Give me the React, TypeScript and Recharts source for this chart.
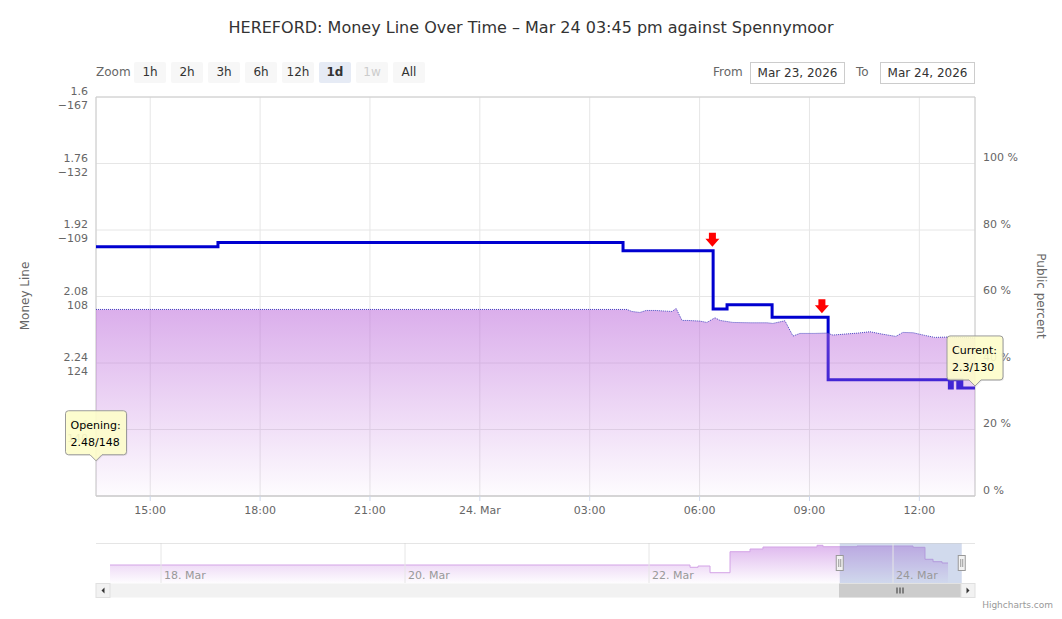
import React from 'react';
import {
  ComposedChart,
  AreaChart,
  Line,
  Area,
  Scatter,
  XAxis,
  YAxis,
  CartesianGrid,
  ReferenceArea,
  ReferenceDot,
  ReferenceLine
} from 'recharts';

const FONT = '"DejaVu Sans", "Lucida Grande", Arial, sans-serif';

// main chart, x = hours since Mar 23 00:00
const viewStart = 13.52;
const viewEnd = 37.52;
const xTicks = [15, 18, 21, 24, 27, 30, 33, 36];
const xTickLabels = ['15:00', '18:00', '21:00', '24. Mar', '03:00', '06:00', '09:00', '12:00'];

// left axis: decimal odds (reversed) with american odds underneath
const oddsTicks = [1.6, 1.76, 1.92, 2.08, 2.24, 2.4, 2.56];
const oddsTickLabels = ['1.6', '1.76', '1.92', '2.08', '2.24', '2.4', '2.56'];
const americanTickLabels = ['\u2212167', '\u2212132', '\u2212109', '108', '124', '140', '156'];

// right axis: public percent
const pctTicks = [0, 20, 40, 60, 80, 100, 120];
const pctTickLabels = ['0 %', '20 %', '40 %', '60 %', '80 %', '100 %', ''];

// money line (step)
const lineHours = [13.52, 16.85, 27.91, 30.37, 30.75, 31.98, 33.51, 36.82, 36.9, 37.05, 37.11, 37.16, 37.52];
const lineOdds = [1.96, 1.95, 1.97, 2.11, 2.1, 2.13, 2.28, 2.3, 2.28, 2.3, 2.28, 2.3, 2.3];

// public percent area
const pctHours = [
  13.52, 28.02, 28.15, 28.37, 28.54, 28.81, 29.08, 29.25, 29.36, 29.52, 29.68, 30.01, 30.2,
  30.42, 30.56, 30.91, 31.38, 31.84, 32.0, 32.33, 32.55, 32.74, 33.15, 33.48, 33.64, 33.97,
  34.33, 34.65, 34.98, 35.36, 35.55, 35.83, 36.15, 36.42, 36.78, 37.11, 37.52
];
const pctValues = [
  56.1, 56.1, 55.5, 55.2, 55.8, 55.8, 55.6, 55.5, 56.4, 52.8, 52.8, 52.6, 52.2,
  53.6, 52.8, 52.2, 52.1, 52.1, 51.9, 52.7, 48.1, 48.9, 48.9, 49.0, 48.4, 48.7,
  49.0, 49.4, 48.7, 48.0, 49.2, 49.1, 48.3, 47.7, 47.8, 47.7, 47.5
];

// line movement flags
const flagHours = [30.35, 33.34];
const flagOdds = [1.97, 2.13];

// opening / current labels
const calloutHours = [13.52, 37.52];
const calloutOdds = [2.48, 2.3];
const calloutTitles = ['Opening:', 'Current:'];
const calloutTexts = ['2.48/148', '2.3/130'];

// navigator, x = days since Mar 17 00:00
const navStart = 0.467;
const navEnd = 7.672;
const navTicks = [1, 3, 5, 7];
const navTickLabels = ['18. Mar', '20. Mar', '22. Mar', '24. Mar'];
const navDays = [0.582, 5.336, 5.402, 5.5, 5.664, 5.828, 5.934, 6.377, 6.426, 6.705, 7.164, 7.262, 7.328, 7.402, 7.451];
const navValues = [42.6, 41.0, 41.9, 37.2, 51.9, 53.8, 55.2, 56.4, 55.4, 55.9, 55.0, 46.6, 44.9, 44.0, 44.0];

const rangeButtons = ['1h', '2h', '3h', '6h', '12h', '1d', '1w', 'All'];

const lineData = lineHours.map((t, i) => ({ t, odds: lineOdds[i] }));
const pctData = pctHours.map((t, i) => ({ t, pct: pctValues[i] }));
const flagData = flagHours.map((t, i) => ({ t, odds: flagOdds[i] }));
const navData = navDays.map((d, i) => ({ d, v: navValues[i] }));

let measureCtx: CanvasRenderingContext2D | null = null;
const textWidth = (s: string, font: string) => {
  if (!measureCtx) measureCtx = document.createElement('canvas').getContext('2d');
  if (!measureCtx) return s.length * 6.5;
  measureCtx.font = font;
  return measureCtx.measureText(s).width;
};

const LeftTick = (props: any) => {
  const { x, y, index } = props;
  if (index === oddsTicks.length - 1) return null;
  return (
    <g fontFamily={FONT} fontSize={11} fill="#666">
      <text x={x} y={y - 2} textAnchor="end">{oddsTickLabels[index]}</text>
      <text x={x} y={y + 12} textAnchor="end">{americanTickLabels[index]}</text>
    </g>
  );
};

const RightTick = (props: any) => {
  const { x, y, index } = props;
  return (
    <text x={x} y={y - 2.5} fontFamily={FONT} fontSize={11} fill="#666">{pctTickLabels[index]}</text>
  );
};

const BottomTick = (props: any) => {
  const { x, y, index } = props;
  return (
    <text x={x} y={y + 9} textAnchor="middle" fontFamily={FONT} fontSize={11} fill="#666">{xTickLabels[index]}</text>
  );
};

const FlagShape = (props: any) => {
  const { cx, cy } = props;
  const tip = cy - 4;
  return (
    <path
      d={`M${cx - 3.5},${tip - 14} h7 v6 h3.5 L${cx},${tip} L${cx - 7},${tip - 8} h3.5 Z`}
      fill="#ff0000"
    />
  );
};

const makeCallout = (title: string, text: string) => (props: any) => {
  const { cx, cy } = props;
  const font = `11px ${FONT}`;
  const w = Math.round(Math.max(textWidth(title, font), textWidth(text, font)) + 11);
  const h = 44;
  const tipY = cy - 2;
  const bottom = tipY - 6;
  const top = bottom - h;
  const left = cx - w / 2;
  const right = cx + w / 2;
  const d = `M${left + 3},${top} H${right - 3} Q${right},${top} ${right},${top + 3} V${bottom - 3} Q${right},${bottom} ${right - 3},${bottom} H${cx + 6} L${cx},${tipY} L${cx - 6},${bottom} H${left + 3} Q${left},${bottom} ${left},${bottom - 3} V${top + 3} Q${left},${top} ${left + 3},${top} Z`;
  return (
    <g>
      <path d={d} transform="translate(1,1)" fill="rgba(0,0,0,0.08)" />
      <path d={d} fill="#ffffcc" fillOpacity={0.9} stroke="#9a9a9a" strokeWidth={1} />
      <text x={left + 5} y={top + 18} fontFamily={FONT} fontSize={11} fill="#000">{title}</text>
      <text x={left + 5} y={top + 35} fontFamily={FONT} fontSize={11} fill="#000">{text}</text>
    </g>
  );
};

const HandleShape = (props: any) => {
  const { cx, cy } = props;
  return (
    <g>
      <rect x={cx - 3.5} y={cy - 7.5} width={7} height={15} fill="#f2f2f2" stroke="#999" strokeWidth={1} />
      <line x1={cx - 1} y1={cy - 4} x2={cx - 1} y2={cy + 4} stroke="#999" />
      <line x1={cx + 1} y1={cy - 4} x2={cx + 1} y2={cy + 4} stroke="#999" />
    </g>
  );
};

const App = () => {
  return (
    <div style={{ position: 'absolute', left: 0, top: 0, width: 1062, height: 619, background: '#fff', fontFamily: FONT }}>
      <div style={{ position: 'absolute', left: 0, top: 18, width: 1062, textAlign: 'center', fontSize: 16, color: '#333' }}>
        HEREFORD: Money Line Over Time – Mar 24 03:45 pm against Spennymoor
      </div>

      <div style={{ position: 'absolute', left: 96, top: 65, fontSize: 12, color: '#666' }}>Zoom</div>
      {rangeButtons.map((b) => {
        const i = rangeButtons.indexOf(b);
        return (
          <div
            key={b}
            style={{
              position: 'absolute',
              left: 134 + i * 37,
              top: 62,
              width: 32,
              height: 21,
              lineHeight: '21px',
              textAlign: 'center',
              fontSize: 12,
              borderRadius: 2,
              background: b === '1d' ? '#e6ebf5' : '#f7f7f7',
              color: b === '1w' ? '#cccccc' : '#333',
              fontWeight: b === '1d' ? 'bold' : 'normal'
            }}
          >
            {b}
          </div>
        );
      })}

      <div style={{ position: 'absolute', left: 713, top: 65, fontSize: 12, color: '#666' }}>From</div>
      <div style={{ position: 'absolute', left: 750, top: 62, width: 93, height: 20, border: '1px solid #ccc', fontSize: 12, lineHeight: '20px', textAlign: 'center', color: '#333' }}>Mar 23, 2026</div>
      <div style={{ position: 'absolute', left: 856, top: 65, fontSize: 12, color: '#666' }}>To</div>
      <div style={{ position: 'absolute', left: 880, top: 62, width: 93, height: 20, border: '1px solid #ccc', fontSize: 12, lineHeight: '20px', textAlign: 'center', color: '#333' }}>Mar 24, 2026</div>

      {/* bottom layer: grid, axes and the money line */}
      <div style={{ position: 'absolute', left: 0, top: 0 }}>
        <ComposedChart width={1062} height={530} margin={{ top: 97, right: 0, bottom: 0, left: 0 }}>
          <CartesianGrid yAxisId="left" stroke="#e6e6e6" />
          <XAxis
            dataKey="t"
            type="number"
            domain={[viewStart, viewEnd]}
            ticks={xTicks}
            allowDataOverflow
            height={34}
            tickSize={5}
            tickMargin={4}
            tick={<BottomTick />}
            tickLine={{ stroke: '#ccd6eb' }}
            axisLine={{ stroke: '#cccccc' }}
          />
          <YAxis
            yAxisId="left"
            type="number"
            domain={[1.6, 2.56]}
            ticks={oddsTicks}
            reversed
            allowDataOverflow
            width={96}
            tickSize={6}
            tickMargin={2}
            tickLine={false}
            axisLine={false}
            tick={<LeftTick />}
            label={{
              content: () => (
                <text x={25} y={296} transform="rotate(-90 25 296)" textAnchor="middle" dominantBaseline="middle" fontFamily={FONT} fontSize={12} fill="#666">Money Line</text>
              )
            }}
          />
          <YAxis
            yAxisId="right"
            orientation="right"
            type="number"
            domain={[0, 120]}
            ticks={pctTicks}
            allowDataOverflow
            width={87}
            tickSize={6}
            tickMargin={2}
            tickLine={false}
            axisLine={false}
            tick={<RightTick />}
            label={{
              content: () => (
                <text x={1040} y={296} transform="rotate(90 1040 296)" textAnchor="middle" dominantBaseline="middle" fontFamily={FONT} fontSize={12} fill="#666">Public percent</text>
              )
            }}
          />
          <ReferenceArea yAxisId="left" x1={viewStart} x2={viewEnd} y1={1.6} y2={2.56} fill="none" stroke="#cccccc" />
          <Line
            yAxisId="left"
            data={lineData}
            dataKey="odds"
            type="stepAfter"
            stroke="#0000d0"
            strokeWidth={3}
            dot={false}
            isAnimationActive={false}
          />
        </ComposedChart>
      </div>

      {/* top layer: translucent public percent area, flags and labels */}
      <div style={{ position: 'absolute', left: 0, top: 0 }}>
        <ComposedChart width={1062} height={530} margin={{ top: 97, right: 87, bottom: 34, left: 96 }}>
          <defs>
            <linearGradient id="pctFill" x1="0" y1="0" x2="0" y2="1">
              <stop offset="0%" stopColor="#be6edc" stopOpacity={0.56} />
              <stop offset="100%" stopColor="#be6edc" stopOpacity={0.02} />
            </linearGradient>
          </defs>
          <XAxis dataKey="t" type="number" domain={[viewStart, viewEnd]} allowDataOverflow hide />
          <YAxis yAxisId="left" type="number" domain={[1.6, 2.56]} reversed allowDataOverflow hide />
          <YAxis yAxisId="right" type="number" domain={[0, 120]} allowDataOverflow hide />
          <Area
            yAxisId="right"
            data={pctData}
            dataKey="pct"
            type="linear"
            stroke="#4646c0"
            strokeWidth={1}
            strokeDasharray="1 1"
            fill="url(#pctFill)"
            fillOpacity={1}
            baseValue={0}
            dot={false}
            isAnimationActive={false}
          />
          <Scatter yAxisId="left" data={flagData} dataKey="odds" shape={<FlagShape />} isAnimationActive={false} />
          {calloutHours.map((t, i) => (
            <ReferenceDot
              key={calloutTitles[i]}
              yAxisId="left"
              x={t}
              y={calloutOdds[i]}
              ifOverflow="visible"
              shape={makeCallout(calloutTitles[i], calloutTexts[i])}
            />
          ))}
        </ComposedChart>
      </div>

      <div style={{ position: 'absolute', left: 0, top: 543 }}>
        <AreaChart width={1062} height={40} data={navData} margin={{ top: 0, right: 87, bottom: 0, left: 96 }}>
          <defs>
            <linearGradient id="navFill" x1="0" y1="0" x2="0" y2="1">
              <stop offset="0%" stopColor="#c47ee0" stopOpacity={0.55} />
              <stop offset="100%" stopColor="#c47ee0" stopOpacity={0.02} />
            </linearGradient>
          </defs>
          <XAxis dataKey="d" type="number" domain={[navStart, navEnd]} allowDataOverflow hide />
          <YAxis hide type="number" domain={[30, 58]} allowDataOverflow />
          <Area
            dataKey="v"
            type="stepAfter"
            stroke="#d3a3e6"
            strokeWidth={1}
            fill="url(#navFill)"
            fillOpacity={1}
            baseValue={30}
            dot={false}
            isAnimationActive={false}
          />
          {navTicks.map((d, i) => (
            <ReferenceLine
              key={d}
              x={d}
              stroke="#e6e6e6"
              label={{
                content: (p: any) => (
                  <text x={p.viewBox.x + 3} y={p.viewBox.y + p.viewBox.height - 4} fontFamily={FONT} fontSize={11} fill="#999">
                    {navTickLabels[i]}
                  </text>
                )
              }}
            />
          ))}
          <ReferenceLine y={58} stroke="#cccccc" />
          <ReferenceArea x1={6 + viewStart / 24} x2={6 + viewEnd / 24} fill="rgb(102,133,194)" fillOpacity={0.3} stroke="none" />
          <ReferenceDot x={6 + viewStart / 24} y={44} shape={<HandleShape />} />
          <ReferenceDot x={6 + viewEnd / 24} y={44} shape={<HandleShape />} />
        </AreaChart>
      </div>

      <svg style={{ position: 'absolute', left: 0, top: 583 }} width={1062} height={16}>
        <rect x={96} y={0.5} width={879} height={14} fill="#f2f2f2" />
        <rect x={96} y={0.5} width={14} height={14} fill="#f2f2f2" stroke="#e0e0e0" />
        <path d="M101.5,7.5 L104.5,4.5 L104.5,10.5 Z" fill="#333" />
        <rect x={839} y={0.5} width={122} height={14} fill="#cccccc" />
        <line x1={897} y1={4.5} x2={897} y2={10.5} stroke="#333" />
        <line x1={900} y1={4.5} x2={900} y2={10.5} stroke="#333" />
        <line x1={903} y1={4.5} x2={903} y2={10.5} stroke="#333" />
        <rect x={961} y={0.5} width={14} height={14} fill="#f2f2f2" stroke="#e0e0e0" />
        <path d="M969.5,7.5 L966.5,4.5 L966.5,10.5 Z" fill="#333" />
      </svg>

      <svg style={{ position: 'absolute', left: 0, top: 596 }} width={1062} height={20}>
        <text x={1053} y={12} textAnchor="end" fontFamily={FONT} fontSize={9} fill="#999">Highcharts.com</text>
      </svg>
    </div>
  );
};

export default App;
